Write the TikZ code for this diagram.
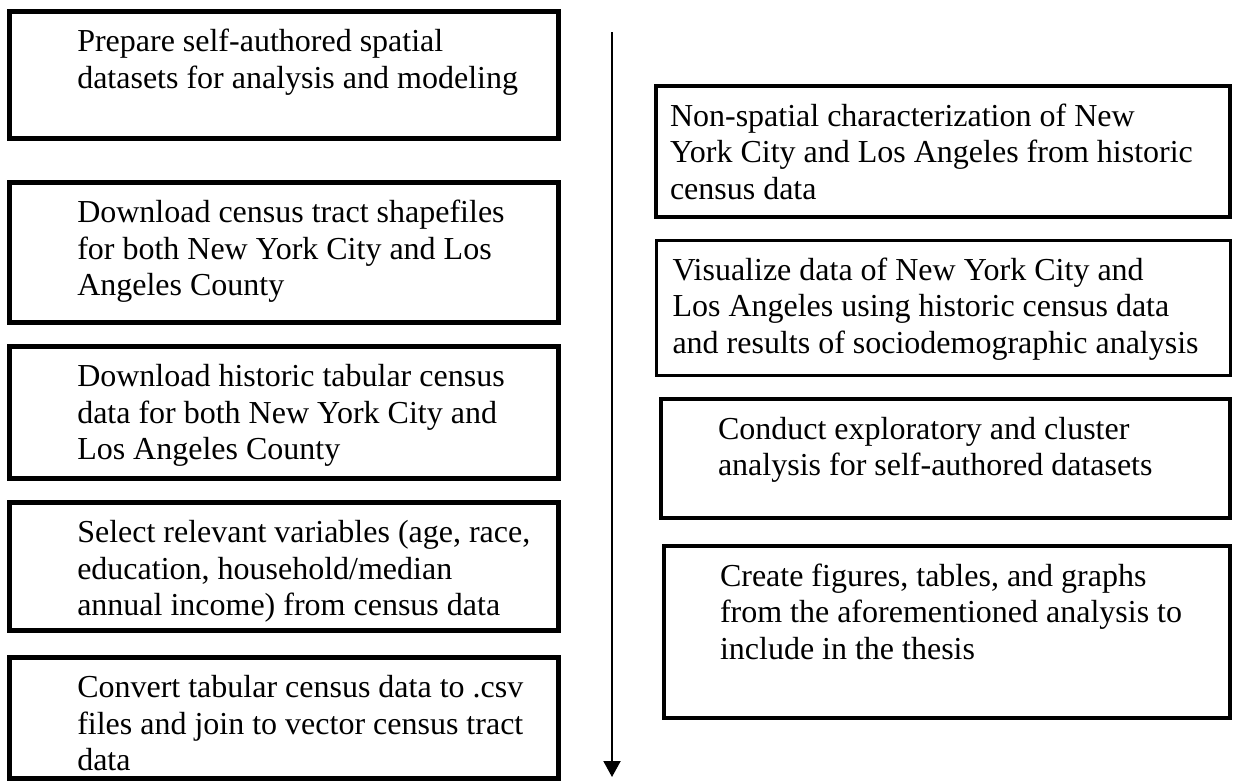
\documentclass[tikz,border=0pt]{standalone}
\usepackage{fontspec}
\setmainfont{Liberation Serif}
\usetikzlibrary{arrows.meta}

\newcommand{\stepfont}{\fontsize{32}{36.8}\selectfont}
% box width, box height, left indent, lines
\newcommand{\steptext}[4]{\parbox[t][#2][t]{#1}{\raggedright\leftskip=#3\relax\rule{0pt}{40pt}#4}}

\begin{document}
\begin{tikzpicture}[x=1pt,y=-1pt,
	stepbox/.style={draw,line width=4.5pt,anchor=north west,inner sep=0pt,font=\stepfont}]

\useasboundingbox (0,0) rectangle (1233,782);

% left column
\node[stepbox] (prep) at (7,9)
	{\steptext{549pt}{127pt}{68pt}{Prepare self-authored spatial\\datasets for analysis and modeling}};
\node[stepbox] (shapes) at (7,180)
	{\steptext{549pt}{140pt}{68pt}{Download census tract shapefiles\\for both New York City and Los\\Angeles County}};
\node[stepbox] (tables) at (7,344)
	{\steptext{549pt}{132pt}{68pt}{Download historic tabular census\\data for both New York City and\\Los Angeles County}};
\node[stepbox] (vars) at (7,500)
	{\steptext{549pt}{128pt}{68pt}{Select relevant variables (age, race,\\education, household/median\\annual income) from census data}};
\node[stepbox] (join) at (7,655)
	{\steptext{549pt}{121pt}{68pt}{Convert tabular census data to .csv\\files and join to vector census tract\\data}};

% order of the steps
\coordinate (flowtop) at (612,32);
\coordinate (flowend) at (612,777);
\draw[line width=2pt,-{Triangle[width=17pt,length=16pt]}] (flowtop) -- (flowend);

% right column
\node[stepbox,line width=4pt] (nonspatial) at (654,84)
	{\steptext{574pt}{131pt}{14pt}{Non-spatial characterization of New\\York City and Los Angeles from historic\\census data}};
\node[stepbox,line width=3pt] (visual) at (654.5,238.5)
	{\steptext{574pt}{135pt}{16.5pt}{Visualize data of New York City and\\Los Angeles using historic census data\\and results of sociodemographic analysis}};
\node[stepbox,line width=4pt] (cluster) at (659,397)
	{\steptext{569pt}{119pt}{57pt}{Conduct exploratory and cluster\\analysis for self-authored datasets}};
\node[stepbox,line width=4pt] (figures) at (662,544)
	{\steptext{566pt}{172pt}{56pt}{Create figures, tables, and graphs\\from the aforementioned analysis to\\include in the thesis}};

\end{tikzpicture}
\end{document}
